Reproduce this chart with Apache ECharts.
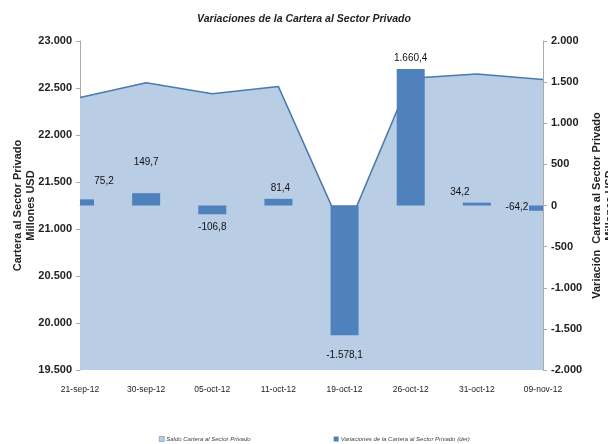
<!DOCTYPE html>
<html>
<head>
<meta charset="utf-8">
<script src="https://cdn.jsdelivr.net/npm/echarts@6/dist/echarts.min.js"></script>
<style>
  html, body { margin: 0; padding: 0; background: #fff; }
  #chart { width: 608px; height: 444px; }
</style>
</head>
<body>
<div id="chart"></div>
<script>
// datos
var fechas = ["21-sep-12", "30-sep-12", "05-oct-12", "11-oct-12", "19-oct-12", "26-oct-12", "31-oct-12", "09-nov-12"];
var saldoCartera = [22400, 22555, 22440, 22515, 20935, 22605, 22650, 22590];
var variaciones = [75.2, 149.7, -106.8, 81.4, -1578.1, 1660.4, 34.2, -64.2];

// desplazamiento de las etiquetas (movidas a mano en el original)
var labelOffsets = [[17, -13], [0, -26], [0, 8], [2, -6], [0, 15], [0, -6], [-17, -5], [-19, -9]];

var FONT = "'Liberation Sans', sans-serif";
var BAR_COLOR = "#4f81bd";

function fmtNum(v, dec) {
  var neg = v < 0;
  var s = Math.abs(v).toFixed(dec);
  var parts = s.split(".");
  var ent = parts[0].replace(/\B(?=(\d{3})+(?!\d))/g, ".");
  return (neg ? "-" : "") + ent + (parts[1] ? "," + parts[1] : "");
}

var chart = echarts.init(document.getElementById("chart"), null, { renderer: "canvas" });

// barras recortadas al area del grafico (en los extremos sale media barra)
function renderBar(params, api) {
  var idx = api.value(0);
  var v = api.value(1);
  var p0 = api.coord([idx, 0]);
  var p1 = api.coord([idx, v]);
  var w = 28;
  var cs = params.coordSys;
  var rect = echarts.graphic.clipRectByRect(
    { x: p0[0] - w / 2, y: Math.min(p0[1], p1[1]), width: w, height: Math.abs(p1[1] - p0[1]) },
    { x: cs.x, y: cs.y, width: cs.width, height: cs.height }
  );
  if (!rect) return;
  return {
    type: "rect",
    shape: rect,
    style: { fill: BAR_COLOR },
    textContent: {
      style: { text: fmtNum(v, 1), fontSize: 10, fill: "#111", fontFamily: FONT }
    },
    textConfig: {
      position: v >= 0 ? "top" : "bottom",
      distance: 0,
      offset: labelOffsets[params.dataIndex]
    }
  };
}

var option = {
  animation: false,
  textStyle: { fontFamily: FONT },
  title: {
    text: "Variaciones de la Cartera al Sector Privado",
    left: "center",
    top: 9,
    textStyle: { fontSize: 10.5, fontWeight: "bold", fontStyle: "italic", color: "#222", fontFamily: FONT }
  },
  legend: {
    bottom: 2,
    left: 159,
    padding: 0,
    itemGap: 83,
    itemWidth: 5,
    itemHeight: 5,
    textStyle: { fontSize: 6, fontStyle: "italic", color: "#444", padding: [0, 0, 0, -3] },
    data: [
      { name: "Saldo Cartera al Sector Privado", icon: "rect", itemStyle: { color: "#b9cde5", borderColor: "#4a7ab0", borderWidth: 0.5 } },
      { name: "Variaciones de la Cartera al Sector Privado (der)", icon: "rect", itemStyle: { color: BAR_COLOR } }
    ]
  },
  grid: { left: 80, right: 65, top: 41, bottom: 74, outerBoundsMode: "none", containLabel: false },
  xAxis: {
    type: "category",
    data: fechas,
    boundaryGap: false,
    axisLine: { lineStyle: { color: "#aaa" } },
    axisTick: { show: true, length: 4, lineStyle: { color: "#aaa" } },
    axisLabel: { fontSize: 8.5, color: "#222", margin: 15, interval: 0 }
  },
  yAxis: [
    {
      type: "value",
      min: 19500,
      max: 23000,
      interval: 500,
      name: "Cartera al Sector Privado\nMillones USD",
      nameLocation: "middle",
      nameRotate: 90,
      nameGap: 43,
      nameMoveOverlap: false,
      nameTextStyle: { fontSize: 11, fontWeight: "bold", color: "#222", lineHeight: 13 },
      axisLine: { show: true, lineStyle: { color: "#aaa" } },
      axisTick: { show: true, length: 4, lineStyle: { color: "#aaa" } },
      splitLine: { show: false },
      axisLabel: { fontSize: 11, fontWeight: "bold", color: "#222", margin: 8, formatter: function (v) { return fmtNum(v, 0); } }
    },
    {
      type: "value",
      min: -2000,
      max: 2000,
      interval: 500,
      position: "right",
      name: "Variación  Cartera al Sector Privado\nMillones USD",
      nameLocation: "middle",
      nameRotate: 90,
      nameGap: 47,
      nameMoveOverlap: false,
      nameTextStyle: { fontSize: 11, fontWeight: "bold", color: "#222", lineHeight: 13 },
      axisLine: { show: true, lineStyle: { color: "#aaa" } },
      axisTick: { show: true, length: 4, lineStyle: { color: "#aaa" } },
      splitLine: { show: false },
      axisLabel: { fontSize: 11, fontWeight: "bold", color: "#222", margin: 8, formatter: function (v) { return fmtNum(v, 0); } }
    }
  ],
  series: [
    {
      name: "Saldo Cartera al Sector Privado",
      type: "line",
      yAxisIndex: 0,
      data: saldoCartera,
      symbol: "none",
      lineStyle: { color: "#4a7ab0", width: 1.5 },
      itemStyle: { color: "#b9cde5" },
      areaStyle: { color: "#b9cde5", opacity: 1 },
      z: 1
    },
    {
      name: "Variaciones de la Cartera al Sector Privado (der)",
      type: "custom",
      yAxisIndex: 1,
      itemStyle: { color: BAR_COLOR },
      renderItem: renderBar,
      encode: { x: 0, y: 1 },
      data: variaciones.map(function (v, i) { return [i, v]; }),
      z: 3
    }
  ]
};

chart.setOption(option);
</script>
</body>
</html>
